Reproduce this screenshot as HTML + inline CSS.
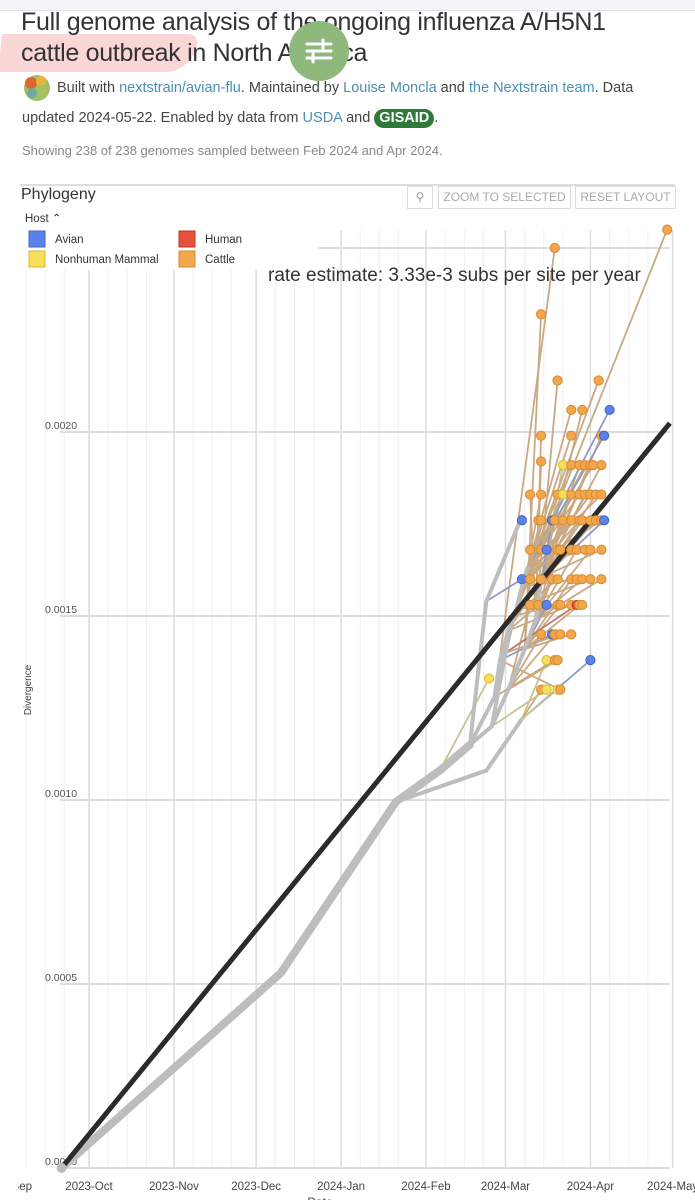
<!DOCTYPE html>
<html><head><meta charset="utf-8">
<style>
body{margin:0;width:695px;height:1200px;overflow:hidden;background:#fff;font-family:"Liberation Sans",sans-serif;position:relative}
.abs{position:absolute}
a{color:#4a8fb5}
</style></head><body>
<div class="abs" style="left:0;top:0;width:695px;height:10px;background:#f3f5f8;border-bottom:1px solid #dfe2e6"></div>
<div class="abs" style="left:0;top:34px;width:196px;height:38px;background:#fbd6d6;border-radius:0 10px 30px 0;transform:skewX(-6deg)"></div>
<div class="abs" style="left:21px;top:7px;font-size:25px;line-height:31px;color:#333;letter-spacing:-0.3px">Full genome analysis of the ongoing influenza A/H5N1<br>cattle outbreak in North America</div>
<div class="abs" style="left:289px;top:21px;width:60px;height:60px;border-radius:50%;background:#8fb97c">
<svg width="60" height="60"><g stroke="#fff" stroke-width="3" stroke-linecap="round"><line x1="18" y1="23" x2="42" y2="23"/><line x1="18" y1="30" x2="42" y2="30"/><line x1="18" y1="37" x2="42" y2="37"/><line x1="34" y1="19" x2="34" y2="27"/><line x1="24" y1="33" x2="24" y2="41"/></g></svg></div>
<svg class="abs" style="left:22px;top:73px" width="30" height="30"><circle cx="15" cy="15" r="13" fill="#9cbf6a"/><circle cx="9" cy="10" r="6" fill="#e0662f"/><circle cx="19" cy="8" r="5" fill="#e9b43a"/><circle cx="10" cy="20" r="5" fill="#6fa8a0"/><circle cx="21" cy="19" r="5" fill="#a9c25c"/></svg>
<div class="abs" style="left:57px;top:78px;font-size:14.5px;color:#444;line-height:20px">Built with <a>nextstrain/avian-flu</a>. Maintained by <a>Louise Moncla</a> and <a>the Nextstrain team</a>. Data</div>
<div class="abs" style="left:22px;top:108px;font-size:14.5px;color:#444;line-height:20px">updated 2024-05-22. Enabled by data from <a>USDA</a> and <span style="display:inline-block;background:#2f7a3a;color:#fff;font-weight:bold;border-radius:10px;padding:0 5px;line-height:19px">GISAID</span>.</div>
<div class="abs" style="left:22px;top:143px;font-size:13px;color:#888">Showing 238 of 238 genomes sampled between Feb 2024 and Apr 2024.</div>
<div class="abs" style="left:20px;top:184px;width:655px;height:2px;background:#ddd"></div>
<div class="abs" style="left:21px;top:186px;font-size:16px;color:#333">Phylogeny</div>
<div class="abs" style="left:407px;top:186px;width:24px;height:21px;border:1px solid #ddd;font-size:12px;color:#999;text-align:center;line-height:21px">&#9906;</div>
<div class="abs" style="left:438px;top:186px;width:131px;height:21px;border:1px solid #ddd;font-size:12px;color:#aaa;text-align:center;line-height:21px">ZOOM TO SELECTED</div>
<div class="abs" style="left:575px;top:186px;width:99px;height:21px;border:1px solid #ddd;font-size:12px;color:#aaa;text-align:center;line-height:21px">RESET LAYOUT</div>

<svg id="chart" class="abs" style="left:0;top:0" width="695" height="1200"></svg>

<script>
const monthDays=[-30,0,31,61,92,123,152,183,213];
const monthLabels=["2023-Sep","2023-Oct","2023-Nov","2023-Dec","2024-Jan","2024-Feb","2024-Mar","2024-Apr","2024-May"];
const yTicks=[0,0.0005,0.0010,0.0015,0.0020,0.0025];
const yTickLabels=["0.0000","0.0005","0.0010","0.0015","0.0020",""];
const hosts=["Avian","Human","Nonhuman Mammal","Cattle"];
const nodeDay=[-10,70,112,128,139,145,158,147,153,159,163,165,145,158, 148,150,153,156,158,160,152,155];
const nodeDiv=[0,0.00053,0.000995,0.00108,0.00115,0.00154,0.00177,0.00120,0.00130,0.00141,0.00149,0.00160,0.00108,0.00122, 0.00128,0.00138,0.00146,0.00152,0.00158,0.00163,0.00140,0.00150];
const nodeParent=[-1,0,1,2,3,4,5,4,7,8,9,10,2,12, 4,14,15,16,17,18,7,20];
const tipDay=[161,165,171,173,176,179,181,183,185,187, 173,176,179,181,183,184,187, 165,176,187,188, 176,180,190, 171,186, 165,165,170,211,
158,164,165,169,170,173,176,176,179,180,183,185,187,188,
161,165,167,171,172,176,178,181,183,187,
158,161,165,169,171,176,178,180,183,187,
161,164,167,171,172,176,178,179,180,
165,169,170,172,176, 167,170,171,183, 165,167,171,172, 146];
const tipDiv=[0.00183,0.00183,0.00183,0.00183,0.00183,0.00183,0.00183,0.00183,0.00183,0.00183,
0.00191,0.00191,0.00191,0.00191,0.00191,0.00191,0.00191, 0.00199,0.00199,0.00199,0.00199, 0.00206,0.00206,0.00206, 0.00214,0.00214, 0.00192,0.00232,0.00250,0.00255,
0.00176,0.00176,0.00176,0.00176,0.00176,0.00176,0.00176,0.00176,0.00176,0.00176,0.00176,0.00176,0.00176,0.00176,
0.00168,0.00168,0.00168,0.00168,0.00168,0.00168,0.00168,0.00168,0.00168,0.00168,
0.00160,0.00160,0.00160,0.00160,0.00160,0.00160,0.00160,0.00160,0.00160,0.00160,
0.00153,0.00153,0.00153,0.00153,0.00153,0.00153,0.00153,0.00153,0.00153,
0.00145,0.00145,0.00145,0.00145,0.00145, 0.00138,0.00138,0.00138,0.00138, 0.00130,0.00130,0.00130,0.00130, 0.00133];
const tipHost=[3,3,3,2,3,3,3,3,3,3, 2,3,3,3,3,3,3, 3,3,3,0, 3,3,0, 3,3, 3,3,3,3,
0,3,3,0,3,3,3,3,3,3,3,3,3,0,
3,3,0,3,3,3,3,3,3,3,
0,3,3,3,3,3,3,3,3,3,
3,3,0,3,3,3,1,3,3,
3,0,3,3,3, 2,3,3,0, 3,2,2,3, 2];
const tipParent=[10,19,11,19,11,19,11,18,11,19, 11,19,11,18,11,19,11, 10,18,11,19, 17,11,19, 10,18, 10,9,14,17,
6,10,19,10,18,10,19,11,18,11,17,11,19,11,
9,21,10,18,10,17,10,19,10,18,
5,9,16,9,21,9,18,10,17,10,
8,16,9,21,9,16,20,9,17,
8,15,8,20,9, 13,14,8,13, 13,7,13,15, 3];

const NS="http://www.w3.org/2000/svg";
const svg=document.getElementById('chart');
const X=d=>89+d*2.74;
const Y=v=>1168-v*368000;
function mk(t,a,p){const e=document.createElementNS(NS,t);for(const k in a)e.setAttribute(k,a[k]);(p||svg).appendChild(e);return e;}
const defs=mk('defs',{});
const cp=mk('clipPath',{id:'clipL'},defs);
mk('rect',{x:18,y:0,width:680,height:1200},cp);
const hostCol=["#5b82e8","#e5513b","#f6df5b","#f2a74d"];
const hostStroke=["#4565c0","#b83a28","#d8bb33","#d88a30"];
const edgeCol=["#8f9cc8","#c0786a","#c9c48e","#c9a983"];
// grid
const gG=mk('g',{});


for(let i=0;i<monthDays.length-1;i++){
  for(const off of [7,14,21]){const x=X(monthDays[i]+off);if(x>20&&x<672)mk('line',{x1:x,x2:x,y1:230,y2:1168,stroke:'#efefef','stroke-width':1},gG);}
}
monthDays.forEach(d=>{const x=X(d);if(x>20&&x<680)mk('line',{x1:x,x2:x,y1:230,y2:1168,stroke:'#dcdcdc','stroke-width':1.5},gG);});
yTicks.forEach(v=>{mk('line',{x1:60,x2:670,y1:Y(v),y2:Y(v),stroke:'#dedede','stroke-width':2},gG);});
yTicks.forEach((v,i)=>{const t=mk('text',{x:45,y:Y(v)-3,'font-size':10.5,fill:'#555'});t.textContent=yTickLabels[i];

});
const xg=mk('g',{'clip-path':'url(#clipL)'});
monthDays.forEach((d,i)=>{const x=X(d);const t=mk('text',{x:i==0?32:x,y:1190,'font-size':11.5,fill:'#444','text-anchor':i==0?'end':'middle'},xg);t.textContent=monthLabels[i];

});
const yt=mk('text',{x:31,y:690,'font-size':10,fill:'#444','text-anchor':'middle',transform:'rotate(-90 31 690)'});yt.textContent='Divergence';


const xt=mk('text',{x:320,y:1206,'font-size':12,fill:'#444','text-anchor':'middle'});xt.textContent='Date';


const eg=mk('g',{});


tipDay.forEach((d,i)=>{const p=tipParent[i];mk('line',{x1:X(nodeDay[p]),y1:Y(nodeDiv[p]),x2:X(d),y2:Y(tipDiv[i]),stroke:edgeCol[tipHost[i]],'stroke-width':1.8},eg);});
const ig=mk('g',{});


nodeDay.forEach((d,i)=>{const p=nodeParent[i];if(p<0)return;mk('line',{x1:X(nodeDay[p]),y1:Y(nodeDiv[p]),x2:X(d),y2:Y(nodeDiv[i]),stroke:'#bdbdbd','stroke-width':i<5?8:4,'stroke-linecap':'round'},ig);});
const rate=0.00333/365.25;
const r0=nodeDay[0]-1, r1=212;
const reg=mk('line',{x1:X(r0),y1:Y((r0-nodeDay[0])*rate),x2:X(r1),y2:Y((r1-nodeDay[0])*rate),stroke:'#2b2b2b','stroke-width':5});


tipDay.forEach((d,i)=>{const c=mk('circle',{cx:X(d),cy:Y(tipDiv[i]),r:4.6,fill:hostCol[tipHost[i]],stroke:hostStroke[tipHost[i]],'stroke-width':1});

});
mk('circle',{cx:X(nodeDay[0]),cy:Y(0),r:5,fill:'#bdbdbd'});
const lg=mk('g',{});


mk('rect',{x:22,y:208,width:296,height:62,fill:'#fff'},lg);
const ht=mk('text',{x:25,y:222,'font-size':11.5,fill:'#333'},lg);ht.textContent='Host \u2303';
const lx=[29,179,29,179],ly=[231,231,251,251];
hosts.forEach((h,i)=>{mk('rect',{x:lx[i],y:ly[i],width:16,height:16,fill:hostCol[i],stroke:hostStroke[i]},lg);
const t=mk('text',{x:lx[i]+26,y:ly[i]+12,'font-size':11.5,fill:'#333'},lg);t.textContent=h;

});
const rt=mk('text',{x:268,y:281,'font-size':19,fill:'#333'});rt.textContent='rate estimate: 3.33e-3 subs per site per year';


mk('rect',{x:260,y:260,width:58,height:9,fill:'#fff'});
</script>
</body></html>
